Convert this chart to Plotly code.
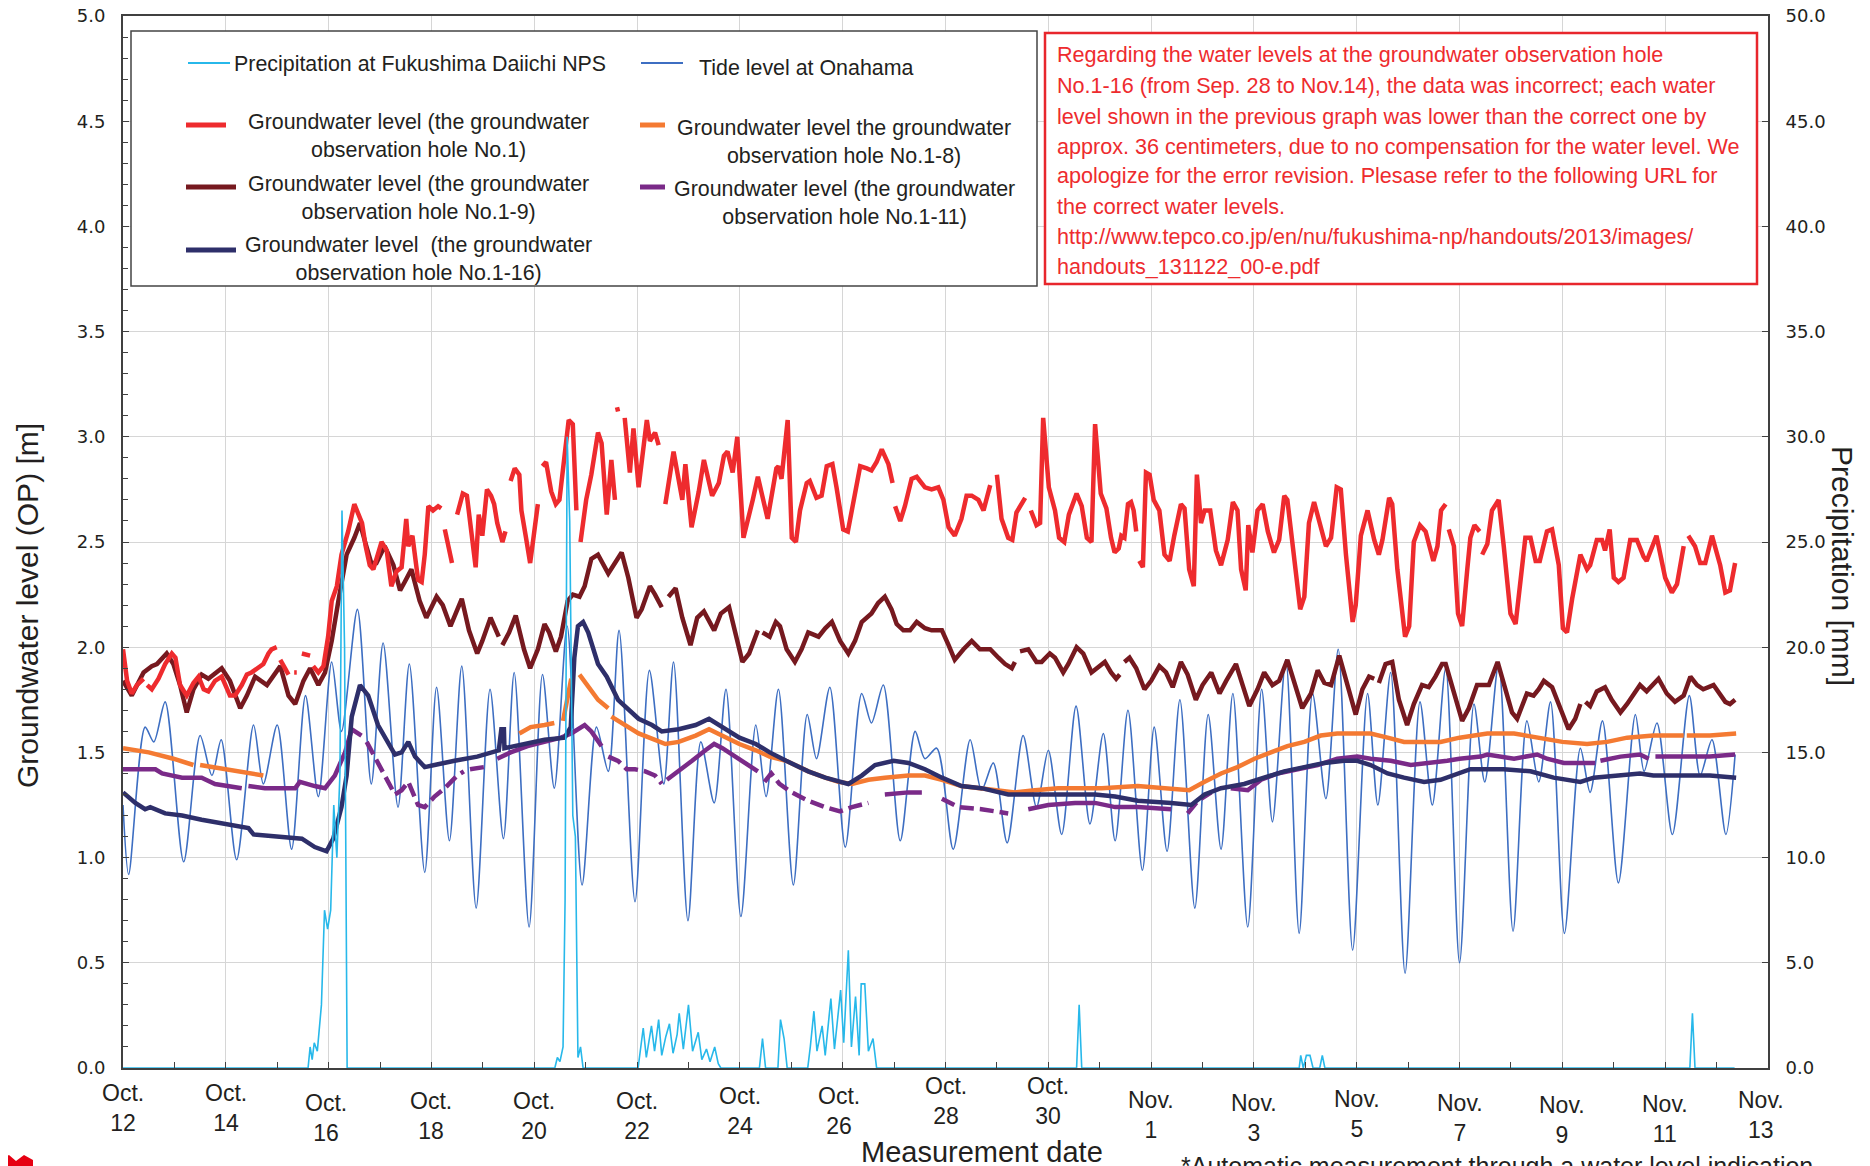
import pandas as pd
import plotly.graph_objects as go

# ---------------- DATA (day offsets from 2013-10-12 00:00) ----------------
START = "2013-10-12"

# Precipitation at Fukushima Daiichi NPS [mm]  (day, value)
precip = [[0.0, 0], [3.60, 0], [3.64, 1.0], [3.68, 0.4], [3.72, 1.2], [3.78, 0.8], [3.86, 3.0], [3.92, 7.5],
          [3.98, 6.6], [4.04, 7.5], [4.10, 12.5], [4.16, 10.0], [4.22, 14.0], [4.26, 26.5], [4.31, 20.0],
          [4.36, 0], [8.40, 0], [8.45, 0.5], [8.50, 0.3], [8.56, 1.0], [8.60, 8.0], [8.64, 30.0], [8.69, 26.0],
          [8.75, 12.0], [8.80, 11.0], [8.85, 0.5], [8.90, 1.0], [8.95, 0], [10.02, 0], [10.08, 1.0],
          [10.12, 1.9], [10.18, 0.5], [10.24, 1.5], [10.28, 2.0], [10.34, 0.8], [10.42, 2.3], [10.48, 0.6],
          [10.56, 1.5], [10.63, 2.1], [10.70, 0.7], [10.78, 1.6], [10.82, 2.6], [10.90, 0.9], [11.00, 3.0],
          [11.08, 0.8], [11.19, 1.7], [11.26, 0.4], [11.35, 0.9], [11.42, 0.3], [11.51, 1.0], [11.58, 0.2],
          [11.63, 0], [12.38, 0], [12.44, 1.4], [12.50, 0], [12.74, 0], [12.79, 2.3], [12.86, 1.4],
          [12.92, 0], [13.32, 0], [13.37, 1.0], [13.44, 2.7], [13.50, 0.8], [13.60, 2.0], [13.66, 0.6],
          [13.77, 3.3], [13.84, 0.9], [13.96, 3.7], [14.02, 1.2], [14.11, 5.6], [14.17, 1.0], [14.25, 3.4],
          [14.32, 0.6], [14.36, 4.0], [14.43, 4.0], [14.50, 0.8], [14.59, 1.4], [14.66, 0], [18.55, 0],
          [18.60, 3.0], [18.65, 0], [22.88, 0], [22.91, 0.6], [22.96, 0], [23.02, 0.6], [23.09, 0.6],
          [23.15, 0], [23.28, 0], [23.33, 0.6], [23.38, 0], [30.48, 0], [30.53, 2.6], [30.58, 0], [31.35, 0]]

# Tide level at Onahama [m]
tide = [[0.00, 1.25], [0.11, 0.92], [0.43, 1.62], [0.60, 1.55], [0.82, 1.74], [1.18, 0.98], [1.50, 1.58],
        [1.73, 1.39], [1.91, 1.56], [2.21, 0.99], [2.54, 1.63], [2.73, 1.35], [3.00, 1.63], [3.28, 1.04],
        [3.55, 1.77], [3.80, 1.29], [4.06, 1.93], [4.25, 1.60], [4.56, 2.18], [4.83, 1.35], [5.06, 2.02],
        [5.35, 1.24], [5.57, 1.92], [5.87, 0.93], [6.10, 1.81], [6.35, 1.08], [6.59, 1.91], [6.87, 0.76],
        [7.14, 1.80], [7.40, 1.09], [7.61, 1.88], [7.90, 0.67], [8.16, 1.87], [8.39, 1.33], [8.64, 2.10],
        [8.93, 0.87], [9.21, 1.62], [9.44, 1.41], [9.65, 2.08], [9.96, 0.79], [10.24, 1.89], [10.52, 1.35],
        [10.71, 1.93], [10.99, 0.70], [11.24, 1.55], [11.50, 1.26], [11.73, 1.80], [12.02, 0.72],
        [12.31, 1.63], [12.51, 1.29], [12.75, 1.80], [13.04, 0.87], [13.31, 1.68], [13.49, 1.47],
        [13.75, 1.81], [14.05, 1.05], [14.37, 1.78], [14.56, 1.64], [14.79, 1.82], [15.12, 1.08],
        [15.41, 1.60], [15.60, 1.47], [15.83, 1.52], [16.15, 1.04], [16.48, 1.56], [16.70, 1.32],
        [16.93, 1.45], [17.20, 1.07], [17.51, 1.58], [17.77, 1.24], [18.00, 1.51], [18.26, 1.11],
        [18.54, 1.72], [18.81, 1.16], [19.07, 1.59], [19.30, 1.08], [19.55, 1.70], [19.83, 0.94],
        [20.06, 1.62], [20.31, 1.03], [20.56, 1.75], [20.85, 0.76], [21.11, 1.68], [21.36, 1.04],
        [21.59, 1.78], [21.88, 0.67], [22.15, 1.80], [22.36, 1.17], [22.62, 1.94], [22.88, 0.64],
        [23.14, 1.78], [23.40, 1.28], [23.64, 1.99], [23.92, 0.56], [24.21, 1.78], [24.41, 1.25],
        [24.66, 1.88], [24.94, 0.45], [25.23, 1.74], [25.47, 1.25], [25.73, 1.90], [26.00, 0.50],
        [26.28, 1.73], [26.49, 1.36], [26.76, 1.92], [27.04, 0.65], [27.31, 1.65], [27.54, 1.36],
        [27.77, 1.74], [28.04, 0.64], [28.35, 1.52], [28.54, 1.31], [28.78, 1.65], [29.09, 0.88],
        [29.42, 1.68], [29.59, 1.41], [29.84, 1.64], [30.14, 1.11], [30.47, 1.77], [30.68, 1.39],
        [30.91, 1.56], [31.18, 1.11], [31.36, 1.49]]

# Groundwater level, observation hole No.1 [m]  (None = missing data)
gw_1 = [[0, 1.99], [0.08, 1.84], [0.17, 1.78], [0.27, 1.82], [0.40, 1.85], [0.44, None],
        [0.47, 1.82], [0.56, 1.80], [0.69, 1.85], [0.82, 1.92], [0.95, 1.97], [1.02, 1.95], [1.11, 1.82],
        [1.24, 1.77], [1.37, 1.83], [1.47, 1.86], [1.57, 1.80], [1.66, 1.79], [1.79, 1.84], [1.92, 1.86],
        [2.08, 1.77], [2.18, 1.77], [2.31, 1.82], [2.41, 1.87], [2.50, 1.88], [2.63, 1.90], [2.73, 1.92],
        [2.83, 1.97], [2.89, 1.99], [2.99, 2.00], [3.02, None],
        [3.06, 1.94], [3.12, 1.91], [3.22, 1.87], [3.28, None], [3.33, 1.88], [3.38, 1.88], [3.43, None],
        [3.48, 1.97], [3.64, 1.96], [3.67, None],
        [3.70, 1.91], [3.80, 1.88], [3.90, 1.91], [3.99, 2.05], [4.06, 2.22], [4.16, 2.29], [4.25, 2.44],
        [4.38, 2.55], [4.50, 2.68], [4.58, 2.63], [4.65, 2.59], [4.72, 2.48], [4.80, 2.39], [4.87, 2.37],
        [4.96, 2.44], [5.03, 2.50], [5.13, 2.46], [5.22, 2.29], [5.32, 2.36], [5.42, 2.38], [5.51, 2.61],
        [5.55, 2.48], [5.63, 2.53], [5.68, 2.42], [5.74, 2.32], [5.81, 2.31], [5.87, 2.44], [5.94, 2.67],
        [6.03, 2.65], [6.13, 2.67], [6.19, 2.66], [6.22, None],
        [6.26, 2.56], [6.32, 2.48], [6.40, 2.40], [6.45, None],
        [6.50, 2.63], [6.61, 2.73], [6.69, 2.72], [6.79, 2.52], [6.86, 2.38], [6.92, 2.63], [6.99, 2.53],
        [7.08, 2.75], [7.16, 2.72], [7.22, 2.68], [7.28, 2.59], [7.38, 2.50], [7.44, 2.55], [7.49, None],
        [7.54, 2.79], [7.62, 2.85], [7.71, 2.82], [7.75, 2.65], [7.84, 2.52], [7.92, 2.40], [7.99, 2.53],
        [8.07, 2.68], [8.12, None],
        [8.16, 2.86], [8.23, 2.88], [8.33, 2.74], [8.42, 2.68], [8.49, 2.70], [8.58, 2.90], [8.67, 3.08],
        [8.75, 3.06], [8.82, 2.65], [8.86, None],
        [8.90, 2.50], [9.01, 2.70], [9.11, 2.82], [9.24, 3.02], [9.31, 2.97], [9.41, 2.63], [9.50, 2.89],
        [9.57, 2.70], [9.59, None], [9.61, 3.14], [9.63, 3.12], [9.70, None],
        [9.76, 3.09], [9.86, 2.83], [9.93, 3.04], [10.03, 2.76], [10.19, 3.08], [10.25, 2.98],
        [10.35, 3.02], [10.42, 2.96], [10.48, None],
        [10.55, 2.68], [10.71, 2.93], [10.88, 2.70], [10.94, 2.87], [11.06, 2.57], [11.20, 2.74],
        [11.30, 2.89], [11.46, 2.72], [11.59, 2.78], [11.69, 2.91], [11.76, 2.93], [11.86, 2.83],
        [11.95, 3.00], [12.07, 2.52], [12.25, 2.70], [12.35, 2.81], [12.54, 2.61], [12.71, 2.85],
        [12.75, 2.86], [12.81, 2.80], [12.93, 3.08], [12.98, 2.80], [13.01, 2.52], [13.09, 2.50],
        [13.17, 2.65], [13.30, 2.78], [13.36, 2.79], [13.49, 2.71], [13.59, 2.72], [13.69, 2.86],
        [13.80, 2.87], [13.88, 2.76], [14.01, 2.56], [14.10, 2.55], [14.21, 2.70], [14.34, 2.86],
        [14.47, 2.85], [14.56, 2.84], [14.66, 2.88], [14.76, 2.94], [14.89, 2.87], [14.97, 2.78],
        [15.00, None],
        [15.02, 2.67], [15.12, 2.60], [15.21, 2.67], [15.34, 2.80], [15.44, 2.81], [15.60, 2.76],
        [15.73, 2.75], [15.86, 2.76], [15.96, 2.70], [16.06, 2.57], [16.18, 2.53], [16.31, 2.61],
        [16.41, 2.72], [16.51, 2.72], [16.64, 2.70], [16.74, 2.65], [16.87, 2.77], [16.94, None],
        [17.00, 2.82], [17.09, 2.61], [17.22, 2.52], [17.30, 2.51], [17.38, 2.64], [17.55, 2.71],
        [17.60, None],
        [17.66, 2.65], [17.77, 2.58], [17.84, 2.59], [17.90, 3.09], [18.01, 2.76], [18.13, 2.65],
        [18.21, 2.52], [18.31, 2.50], [18.40, 2.63], [18.55, 2.73], [18.65, 2.67], [18.75, 2.52],
        [18.84, 2.50], [18.91, 3.06], [19.02, 2.73], [19.13, 2.66], [19.22, 2.52], [19.29, 2.45],
        [19.37, 2.47], [19.42, 2.53], [19.48, 2.52], [19.55, 2.68], [19.61, 2.69], [19.66, 2.65],
        [19.71, 2.55], [19.74, None],
        [19.77, 2.41], [19.84, 2.38], [19.90, 2.83], [19.97, 2.82], [20.05, 2.70], [20.16, 2.65],
        [20.26, 2.44], [20.36, 2.41], [20.45, 2.53], [20.58, 2.68], [20.65, 2.66], [20.74, 2.37],
        [20.83, 2.29], [20.89, 2.82], [20.97, 2.59], [21.04, 2.65], [21.15, 2.65], [21.26, 2.46],
        [21.36, 2.39], [21.49, 2.51], [21.59, 2.69], [21.68, 2.65], [21.75, 2.37], [21.84, 2.27],
        [21.89, 2.58], [21.97, 2.45], [22.07, 2.65], [22.17, 2.68], [22.27, 2.55], [22.39, 2.45],
        [22.49, 2.51], [22.59, 2.72], [22.65, 2.70], [22.78, 2.42], [22.90, 2.18], [22.98, 2.24],
        [23.07, 2.59], [23.17, 2.69], [23.29, 2.59], [23.40, 2.48], [23.50, 2.52], [23.61, 2.76],
        [23.69, 2.75], [23.79, 2.44], [23.92, 2.12], [23.98, 2.20], [24.08, 2.53], [24.21, 2.65],
        [24.34, 2.51], [24.43, 2.44], [24.50, 2.51], [24.63, 2.71], [24.69, 2.68], [24.79, 2.37],
        [24.94, 2.05], [25.02, 2.10], [25.11, 2.50], [25.23, 2.58], [25.34, 2.55], [25.44, 2.46],
        [25.49, 2.41], [25.57, 2.48], [25.64, 2.65], [25.73, 2.68], [25.76, None],
        [25.79, 2.56], [25.89, 2.48], [25.97, 2.16], [26.05, 2.10], [26.15, 2.37], [26.21, 2.52],
        [26.29, 2.58], [26.39, 2.55], [26.42, None],
        [26.44, 2.44], [26.54, 2.49], [26.63, 2.65], [26.76, 2.70], [26.86, 2.48], [26.99, 2.16],
        [27.09, 2.11], [27.18, 2.31], [27.28, 2.52], [27.38, 2.52], [27.48, 2.41], [27.56, 2.41],
        [27.70, 2.55], [27.80, 2.56], [27.93, 2.39], [28.01, 2.09], [28.09, 2.07], [28.19, 2.23],
        [28.35, 2.44], [28.48, 2.37], [28.54, 2.39], [28.67, 2.51], [28.77, 2.51], [28.83, 2.46],
        [28.92, 2.56], [29.00, 2.33], [29.09, 2.31], [29.19, 2.33], [29.32, 2.51], [29.45, 2.51],
        [29.58, 2.43], [29.64, 2.41], [29.83, 2.53], [30.00, 2.33], [30.13, 2.26], [30.23, 2.30],
        [30.36, 2.48], [30.41, None],
        [30.45, 2.53], [30.58, 2.48], [30.68, 2.40], [30.78, 2.40], [30.91, 2.53], [31.00, 2.46],
        [31.07, 2.39], [31.17, 2.26], [31.26, 2.27], [31.36, 2.40]]

# Groundwater level, observation hole No.1-9 [m]
gw_1_9 = [[0, 1.84], [0.17, 1.77], [0.40, 1.88], [0.56, 1.91], [0.66, 1.92], [0.85, 1.97], [0.98, 1.92],
          [1.11, 1.82], [1.24, 1.69], [1.37, 1.80], [1.53, 1.87], [1.66, 1.85], [1.92, 1.90], [2.08, 1.84],
          [2.28, 1.71], [2.41, 1.77], [2.57, 1.86], [2.80, 1.82], [3.06, 1.91], [3.22, 1.77], [3.35, 1.73],
          [3.51, 1.84], [3.64, 1.90], [3.80, 1.82], [3.93, 1.88], [4.06, 2.03], [4.19, 2.22], [4.35, 2.44],
          [4.50, 2.52], [4.61, 2.59], [4.71, 2.50], [4.83, 2.40], [4.93, 2.40], [5.09, 2.48], [5.26, 2.39],
          [5.39, 2.27], [5.48, 2.31], [5.61, 2.37], [5.77, 2.22], [5.90, 2.14], [6.10, 2.24], [6.22, 2.20],
          [6.37, 2.10], [6.50, 2.18], [6.59, 2.23], [6.73, 2.08], [6.89, 1.97], [6.99, 2.03], [7.15, 2.14],
          [7.31, 2.05], [7.34, None],
          [7.38, 2.01], [7.51, 2.07], [7.64, 2.15], [7.80, 1.99], [7.92, 1.90], [8.07, 1.99], [8.20, 2.11],
          [8.29, 2.07], [8.42, 1.98], [8.52, 2.05], [8.65, 2.22], [8.75, 2.25], [8.88, 2.24], [8.98, 2.29],
          [9.11, 2.42], [9.24, 2.44], [9.44, 2.35], [9.57, 2.40], [9.70, 2.45], [9.83, 2.33], [9.99, 2.14],
          [10.09, 2.18], [10.25, 2.29], [10.35, 2.25], [10.48, 2.19], [10.54, None],
          [10.61, 2.24], [10.75, 2.28], [10.88, 2.14], [11.04, 2.01], [11.17, 2.14], [11.30, 2.17],
          [11.50, 2.08], [11.63, 2.16], [11.79, 2.19], [11.92, 2.05], [12.05, 1.93], [12.18, 1.97],
          [12.35, 2.08], [12.40, None],
          [12.44, 2.07], [12.58, 2.05], [12.70, 2.12], [12.78, 2.10], [12.91, 1.99], [13.07, 1.93],
          [13.20, 1.99], [13.33, 2.07], [13.53, 2.05], [13.66, 2.09], [13.79, 2.12], [13.95, 2.03],
          [14.11, 1.97], [14.24, 2.03], [14.37, 2.12], [14.56, 2.16], [14.69, 2.21], [14.82, 2.24],
          [14.95, 2.18], [15.05, 2.11], [15.18, 2.08], [15.31, 2.08], [15.44, 2.12], [15.60, 2.09],
          [15.73, 2.08], [15.93, 2.08], [16.06, 2.01], [16.18, 1.94], [16.35, 1.99], [16.51, 2.03],
          [16.67, 1.99], [16.87, 1.99], [17.03, 1.95], [17.16, 1.92], [17.29, 1.90], [17.35, 1.93],
          [17.40, None],
          [17.45, 1.98], [17.61, 1.99], [17.77, 1.93], [17.87, 1.93], [18.03, 1.97], [18.13, 1.95],
          [18.29, 1.88], [18.39, 1.92], [18.55, 2.00], [18.68, 1.97], [18.84, 1.88], [18.94, 1.90],
          [19.10, 1.93], [19.22, 1.88], [19.32, 1.85], [19.39, 1.87], [19.44, None],
          [19.48, 1.93], [19.58, 1.95], [19.71, 1.90], [19.87, 1.80], [20.00, 1.84], [20.16, 1.91],
          [20.29, 1.88], [20.42, 1.81], [20.58, 1.93], [20.71, 1.87], [20.87, 1.75], [21.00, 1.82],
          [21.17, 1.88], [21.33, 1.78], [21.46, 1.84], [21.65, 1.92], [21.78, 1.82], [21.91, 1.72],
          [22.07, 1.80], [22.20, 1.88], [22.36, 1.82], [22.49, 1.84], [22.65, 1.94], [22.78, 1.84],
          [22.94, 1.71], [23.11, 1.78], [23.24, 1.89], [23.37, 1.83], [23.50, 1.82], [23.66, 1.96],
          [23.79, 1.84], [23.98, 1.68], [24.11, 1.80], [24.24, 1.86], [24.34, 1.85], [24.39, None],
          [24.43, 1.83], [24.56, 1.92], [24.69, 1.93], [24.82, 1.75], [24.98, 1.63], [25.11, 1.73],
          [25.27, 1.82], [25.40, 1.81], [25.53, 1.86], [25.66, 1.92], [25.73, 1.92], [25.89, 1.78],
          [26.05, 1.65], [26.18, 1.71], [26.34, 1.82], [26.44, 1.82], [26.57, 1.82], [26.74, 1.93],
          [26.89, 1.80], [27.02, 1.69], [27.12, 1.66], [27.31, 1.78], [27.44, 1.77], [27.54, 1.80],
          [27.64, 1.84], [27.80, 1.81], [27.96, 1.71], [28.12, 1.61], [28.25, 1.66], [28.35, 1.73],
          [28.40, None],
          [28.45, 1.74], [28.54, 1.72], [28.67, 1.79], [28.83, 1.81], [28.96, 1.75], [29.13, 1.69],
          [29.26, 1.73], [29.51, 1.82], [29.64, 1.79], [29.87, 1.85], [30.03, 1.78], [30.19, 1.74],
          [30.36, 1.77], [30.49, 1.86], [30.62, 1.82], [30.74, 1.80], [30.94, 1.82], [31.07, 1.77],
          [31.17, 1.74], [31.26, 1.73], [31.36, 1.75]]

# Groundwater level, observation hole No.1-8 [m]
gw_1_8 = [[0, 1.52], [0.50, 1.50], [0.98, 1.47], [1.37, 1.44], [1.43, None], [1.50, 1.44], [1.98, 1.42],
          [2.41, 1.40], [2.73, 1.39], [5.0, None],
          [7.71, 1.59], [7.93, 1.62], [8.20, 1.63], [8.39, 1.64], [8.48, None],
          [8.56, 1.65], [8.67, 1.78], [8.72, 1.85], [8.80, None],
          [8.88, 1.87], [9.05, 1.81], [9.24, 1.75], [9.44, 1.71], [9.47, None],
          [9.50, 1.67], [9.76, 1.63], [10.03, 1.59], [10.35, 1.56], [10.55, 1.54], [10.81, 1.55],
          [11.14, 1.58], [11.40, 1.61], [11.66, 1.58], [11.99, 1.54], [12.31, 1.51], [12.58, 1.48],
          [12.90, 1.46], [13.33, 1.41], [13.66, 1.38], [13.92, 1.36], [14.18, 1.35], [14.50, 1.37],
          [14.82, 1.38], [15.28, 1.39], [15.60, 1.39], [15.93, 1.37], [16.31, 1.34], [16.70, 1.33],
          [17.09, 1.32], [17.35, 1.31], [17.74, 1.32], [18.19, 1.33], [18.65, 1.33], [19.04, 1.33],
          [19.74, 1.34], [20.39, 1.33], [20.74, 1.32], [21.04, 1.36], [21.36, 1.40], [21.68, 1.43],
          [22.01, 1.47], [22.33, 1.50], [22.65, 1.53], [22.98, 1.55], [23.30, 1.58], [23.62, 1.59],
          [23.95, 1.59], [24.27, 1.59], [24.60, 1.57], [24.92, 1.55], [25.24, 1.55], [25.63, 1.55],
          [26.00, 1.57], [26.54, 1.59], [27.06, 1.59], [27.51, 1.57], [28.00, 1.55], [28.48, 1.54],
          [28.87, 1.55], [29.26, 1.57], [29.77, 1.58], [30.36, 1.58], [30.39, None],
          [30.42, 1.58], [30.87, 1.58], [31.38, 1.59]]

# Groundwater level, observation hole No.1-11 [m]
gw_1_11 = [[0, 1.42], [0.63, 1.42], [0.76, 1.40], [1.15, 1.38], [1.53, 1.38], [1.79, 1.35], [2.31, 1.33],
           [2.38, None],
           [2.44, 1.34], [2.76, 1.33], [3.35, 1.33], [3.44, 1.36], [3.73, 1.34], [3.93, 1.33], [4.12, 1.39],
           [4.32, 1.50], [4.45, 1.61], [4.64, 1.58], [4.69, None],
           [4.74, 1.55], [4.96, 1.45], [5.16, 1.35], [5.29, 1.30], [5.42, 1.32], [5.55, 1.36], [5.74, 1.25],
           [5.87, 1.24], [6.06, 1.29], [6.26, 1.33], [6.50, 1.39], [6.63, 1.41], [6.69, None],
           [6.75, 1.42], [7.02, 1.43], [7.28, 1.47], [7.54, 1.50], [7.87, 1.53], [8.20, 1.55],
           [8.52, 1.57], [8.72, 1.59], [8.85, 1.61], [8.98, 1.63], [9.11, 1.60], [9.31, 1.53], [9.38, None],
           [9.44, 1.48], [9.63, 1.46], [9.80, 1.42], [9.96, 1.42], [10.16, 1.41], [10.35, 1.39],
           [10.48, 1.35], [10.58, 1.37], [10.81, 1.41], [11.07, 1.46], [11.33, 1.51], [11.50, 1.54],
           [11.66, 1.52], [11.92, 1.48], [12.18, 1.44], [12.35, 1.41], [12.48, 1.36], [12.61, 1.40],
           [12.77, 1.35], [13.01, 1.31], [13.33, 1.27], [13.66, 1.24], [13.95, 1.22], [14.18, 1.24],
           [14.50, 1.26], [14.82, 1.30], [15.28, 1.31], [15.54, 1.31], [15.93, 1.28], [16.25, 1.24],
           [16.70, 1.23], [17.22, 1.21], [17.61, 1.23], [18.00, 1.25], [18.52, 1.26], [18.91, 1.26],
           [19.30, 1.24], [19.74, 1.24], [20.39, 1.23], [20.71, 1.21], [20.91, 1.27], [21.17, 1.31],
           [21.55, 1.33], [21.88, 1.32], [22.14, 1.37], [22.46, 1.40], [22.85, 1.42], [23.24, 1.44],
           [23.62, 1.47], [24.01, 1.48], [24.27, 1.47], [24.66, 1.46], [25.05, 1.44], [25.44, 1.45],
           [25.76, 1.46], [26.00, 1.47], [26.41, 1.48], [26.54, 1.49], [27.06, 1.47], [27.51, 1.49],
           [27.70, 1.47], [28.03, 1.45], [28.64, 1.45], [28.69, None],
           [28.74, 1.46], [29.13, 1.48], [29.51, 1.49], [29.68, 1.47], [29.75, None],
           [29.81, 1.48], [30.42, 1.48], [30.87, 1.48], [31.36, 1.49]]
# stretches of No.1-11 where the record is broken into short dashes
gw_1_11_broken = [[4.70, 7.10], [9.40, 10.50], [12.45, 14.80], [15.90, 17.40], [20.40, 21.20]]

# Groundwater level, observation hole No.1-16 [m]
gw_1_16 = [[0, 1.31], [0.24, 1.26], [0.43, 1.23], [0.53, 1.24], [0.82, 1.21], [1.15, 1.20], [1.53, 1.18],
           [1.98, 1.16], [2.44, 1.14], [2.54, 1.11], [2.96, 1.10], [3.35, 1.09], [3.48, 1.09], [3.73, 1.05],
           [3.96, 1.03], [4.09, 1.09], [4.25, 1.24], [4.35, 1.39], [4.45, 1.67], [4.61, 1.82], [4.77, 1.77],
           [4.96, 1.63], [5.16, 1.54], [5.29, 1.49], [5.42, 1.50], [5.55, 1.55], [5.68, 1.48], [5.87, 1.43],
           [6.06, 1.44], [6.32, 1.45], [6.45, 1.46], [6.89, 1.48], [7.31, 1.51], [7.36, 1.61], [7.41, 1.61],
           [7.42, 1.52], [7.87, 1.54], [8.20, 1.56], [8.59, 1.57], [8.71, 1.62], [8.78, 1.95], [8.85, 2.10],
           [8.95, 2.12], [9.05, 2.07], [9.24, 1.92], [9.41, 1.86], [9.63, 1.75], [9.80, 1.71], [10.03, 1.66],
           [10.29, 1.63], [10.48, 1.60], [10.81, 1.61], [11.14, 1.63], [11.40, 1.66], [11.66, 1.62],
           [11.99, 1.57], [12.31, 1.54], [12.58, 1.50], [12.90, 1.46], [13.33, 1.41], [13.66, 1.38],
           [13.95, 1.36], [14.11, 1.35], [14.37, 1.39], [14.63, 1.44], [14.99, 1.46], [15.28, 1.45],
           [15.60, 1.42], [15.93, 1.38], [16.31, 1.34], [16.70, 1.33], [17.22, 1.30], [17.61, 1.30],
           [18.06, 1.30], [18.52, 1.30], [18.91, 1.30], [19.30, 1.29], [19.74, 1.27], [20.39, 1.26],
           [20.78, 1.25], [21.04, 1.30], [21.36, 1.33], [21.81, 1.35], [22.20, 1.38], [22.59, 1.41],
           [22.98, 1.43], [23.37, 1.45], [23.75, 1.46], [24.01, 1.46], [24.27, 1.44], [24.60, 1.40],
           [24.92, 1.38], [25.31, 1.36], [25.63, 1.37], [26.00, 1.40], [26.21, 1.42], [26.86, 1.42],
           [27.38, 1.41], [27.83, 1.38], [28.35, 1.36], [28.61, 1.38], [29.13, 1.39], [29.51, 1.40],
           [29.77, 1.39], [30.42, 1.39], [30.87, 1.39], [31.38, 1.38]]

# x tick labels (every 2 days from Oct. 12)
tick_days = [0, 2, 4, 6, 8, 10, 12, 14, 16, 18, 20, 22, 24, 26, 28, 30, 32]
tick_labels = ["Oct.<br>12", "Oct.<br>14", "Oct.<br>16", "Oct.<br>18", "Oct.<br>20", "Oct.<br>22",
               "Oct.<br>24", "Oct.<br>26", "Oct.<br>28", "Oct.<br>30", "Nov.<br>1", "Nov.<br>3",
               "Nov.<br>5", "Nov.<br>7", "Nov.<br>9", "Nov.<br>11", "Nov.<br>13"]

note_lines = [
    "Regarding the water levels at the groundwater observation hole",
    "No.1-16 (from Sep. 28 to Nov.14), the data was incorrect; each water",
    "level shown in the previous graph was lower than the correct one by",
    "approx. 36 centimeters, due to no compensation for the water level. We",
    "apologize for the error revision. Plesase refer to the following URL for",
    "the correct water levels.",
    "http://www.tepco.co.jp/en/nu/fukushima-np/handouts/2013/images/",
    "handouts_131122_00-e.pdf",
]

# ---------------- LAYOUT HELPERS ----------------
W, H = 1870, 1166
OFF = 8                                   # default page margin around the plot div
PL, PR, PT, PB = 123, 1768, 16, 1068      # plot box in page pixels
ML, MR, MT, MB = PL - OFF, W - (PR - OFF), PT - OFF, H - (PB - OFF)
base = pd.Timestamp(START)


def fx(x):  # page pixel -> paper x
    return (x - PL) / (PR - PL)


def fy(y):  # page pixel -> paper y
    return (PB - y) / (PB - PT)


def to_xy(pairs):
    xs = [base + pd.Timedelta(days=d) for d, _ in pairs]
    ys = [v for _, v in pairs]
    return xs, ys


FONT = "Liberation Sans, Arial, sans-serif"
TXT = "#231f20"
C_RED, C_DRED, C_ORG, C_PUR, C_NAVY = "#ee2b2e", "#76191f", "#f47a32", "#7a2a88", "#2e2f6a"
C_TIDE, C_RAIN = "#3d6ec2", "#27b8ea"

fig = go.Figure()


def add_line(pairs, color, width, axis="y", shape="linear", dash="solid"):
    xs, ys = to_xy(pairs)
    line = dict(color=color, width=width, shape=shape, dash=dash)
    if shape == "spline":
        line["smoothing"] = 0.8
    fig.add_trace(go.Scatter(x=xs, y=ys, mode="lines", line=line, yaxis=axis,
                             connectgaps=False, showlegend=False, hoverinfo="skip"))


def in_ranges(d, ranges):
    return any(a <= d <= b for a, b in ranges)


# split No.1-11 into its continuous and broken (dashed-looking) stretches
pur_solid = [[d, (None if in_ranges(d, gw_1_11_broken) else v)] for d, v in gw_1_11]
pur_broken = [[d, (v if in_ranges(d, gw_1_11_broken) else None)] for d, v in gw_1_11]

add_line(tide, C_TIDE, 1.6, shape="spline")
add_line(pur_solid, C_PUR, 4.5)
add_line(pur_broken, C_PUR, 4.5, dash="14px,6px")
add_line(gw_1_8, C_ORG, 4.5)
add_line(gw_1_16, C_NAVY, 4.5)
add_line(gw_1_9, C_DRED, 4.5)
add_line(gw_1, C_RED, 4.5)
add_line(precip, C_RAIN, 1.6, axis="y2")

# ---------------- ANNOTATIONS ----------------
ann = []
# staggered x tick labels (top pixel of each label block, as in the original)
label_top = [1078, 1078, 1088, 1086, 1086, 1086, 1081, 1081, 1071, 1071, 1085, 1088, 1084, 1088, 1090, 1089, 1085]
label_dx = [0, 0, -3, 0, 0, 0, 0, -4, 0, 0, 0, 0, 0, 0, 0, 0, -7]
for d, lab, top, dx in zip(tick_days, tick_labels, label_top, label_dx):
    ann.append(dict(x=base + pd.Timedelta(days=d), xref="x", y=0, yref="paper", yanchor="top",
                    yshift=-(top - PB), xshift=dx, text=lab, showarrow=False,
                    font=dict(family=FONT, size=23, color=TXT), align="center"))

# axis titles
ann.append(dict(x=fx(27), y=fy(606), xref="paper", yref="paper", xanchor="center", yanchor="middle",
                text="Groundwater level (OP) [m]", textangle=-90, showarrow=False,
                font=dict(family=FONT, size=30, color=TXT)))
ann.append(dict(x=fx(1843), y=fy(566), xref="paper", yref="paper", xanchor="center", yanchor="middle",
                text="Precipitation [mm]", textangle=90, showarrow=False,
                font=dict(family=FONT, size=30, color=TXT)))
ann.append(dict(x=fx(982), y=fy(1152), xref="paper", yref="paper", xanchor="center", yanchor="middle",
                text="Measurement date", showarrow=False, font=dict(family=FONT, size=29, color=TXT)))
ann.append(dict(x=fx(1179), y=fy(1150), xref="paper", yref="paper", xanchor="left", yanchor="top",
                text="*Automatic measurement through a water level indication",
                showarrow=False, font=dict(family=FONT, size=25, color=TXT)))

# red note
note_y = [55, 86, 117, 146, 176, 206, 236, 266]
for txt, yy in zip(note_lines, note_y):
    ann.append(dict(x=fx(1055), y=fy(yy), xref="paper", yref="paper", xanchor="left", yanchor="middle",
                    text=txt, showarrow=False, font=dict(family=FONT, size=21.6, color="#ee2b2e")))

# legend
legend_items = [
    # text, color, width, sample x0, x1, sample y, text x, text y, anchor
    ("Precipitation at Fukushima Daiichi NPS", C_RAIN, 2, 188, 230, 63, 232, 64, "left"),
    ("Tide level at Onahama", C_TIDE, 2, 641, 683, 63, 697, 68, "left"),
    ("Groundwater level (the groundwater<br>observation hole No.1)", C_RED, 5, 186, 226, 125, 418, 136, "center"),
    ("Groundwater level the groundwater<br>observation hole No.1-8)", C_ORG, 5, 640, 665, 125, 844, 142, "center"),
    ("Groundwater level (the groundwater<br>observation hole No.1-9)", C_DRED, 5, 186, 236, 187, 418, 198, "center"),
    ("Groundwater level (the groundwater<br>observation hole No.1-11)", C_PUR, 5, 640, 665, 187, 844, 203, "center"),
    ("Groundwater level\u00a0 (the groundwater<br>observation hole No.1-16)", C_NAVY, 5, 186, 236, 250, 418, 259, "center"),
]

shapes = [
    dict(type="rect", xref="paper", yref="paper", x0=fx(131), x1=fx(1037), y0=fy(31), y1=fy(286),
         line=dict(color="#444444", width=1.5), fillcolor="white", layer="above"),
    dict(type="rect", xref="paper", yref="paper", x0=fx(1045), x1=fx(1757), y0=fy(33), y1=fy(284),
         line=dict(color="#e8262c", width=2.5), fillcolor="white", layer="above"),
    # corner of the company logo, cut by the bottom edge
    dict(type="path", xref="paper", yref="paper",
         path="M {0},{1} L {0},{2} L {3},{4} L {5},{6} L {7},{4} L {8},{2} L {8},{1} Z".format(
             fx(0), fy(1170), fy(1160), fx(9), fy(1155), fx(16), fy(1161), fx(24), fx(33)),
         line=dict(width=0), fillcolor="#e60012", layer="above"),
]
for txt, col, wd, sx0, sx1, sy, tx, ty, anc in legend_items:
    shapes.append(dict(type="line", xref="paper", yref="paper", x0=fx(sx0), x1=fx(sx1), y0=fy(sy), y1=fy(sy),
                       line=dict(color=col, width=wd), layer="above"))
    ann.append(dict(x=fx(tx), y=fy(ty), xref="paper", yref="paper", xanchor=anc, yanchor="middle",
                    text=txt, showarrow=False, align="center",
                    font=dict(family=FONT, size=21.4, color=TXT)))

axis_line = "#404040"
tickfont = dict(family="DejaVu Sans, Verdana, sans-serif", size=18, color=TXT)

fig.update_layout(
    width=W, height=H,
    margin=dict(l=ML, r=MR, t=MT, b=MB, pad=0, autoexpand=False),
    paper_bgcolor="white", plot_bgcolor="white",
    showlegend=False,
    xaxis=dict(type="date", range=[base, base + pd.Timedelta(days=32)], automargin=False,
               tick0=base, dtick=2 * 86400000, showgrid=True, gridcolor="#d6d6d6", gridwidth=1.3,
               showticklabels=False, ticks="inside", ticklen=6, tickcolor=axis_line,
               minor=dict(dtick=86400000, ticks="inside", ticklen=6, tickcolor=axis_line, showgrid=False),
               showline=True, linecolor=axis_line, linewidth=2, mirror=True, zeroline=False),
    yaxis=dict(range=[0, 5], dtick=0.5, tick0=0, tickformat=".1f", showgrid=True, gridcolor="#d6d6d6",
               gridwidth=1.3, ticks="inside", ticklen=6, tickcolor=axis_line, automargin=False,
               minor=dict(dtick=0.1, ticks="inside", ticklen=5, tickcolor=axis_line, showgrid=False),
               showline=True, linecolor=axis_line, linewidth=2, zeroline=False,
               tickfont=tickfont, ticklabelstandoff=12, ticklabeloverflow="allow"),
    yaxis2=dict(range=[0, 50], dtick=5, tick0=0, tickformat=".1f", overlaying="y", side="right",
                anchor="x", showgrid=False, ticks="inside", ticklen=6, tickcolor=axis_line, automargin=False,
                showline=True, linecolor=axis_line, linewidth=2, zeroline=False,
                tickfont=tickfont, ticklabelstandoff=12, ticklabeloverflow="allow"),
    annotations=ann,
    shapes=shapes,
)

fig.write_html("out.html")
